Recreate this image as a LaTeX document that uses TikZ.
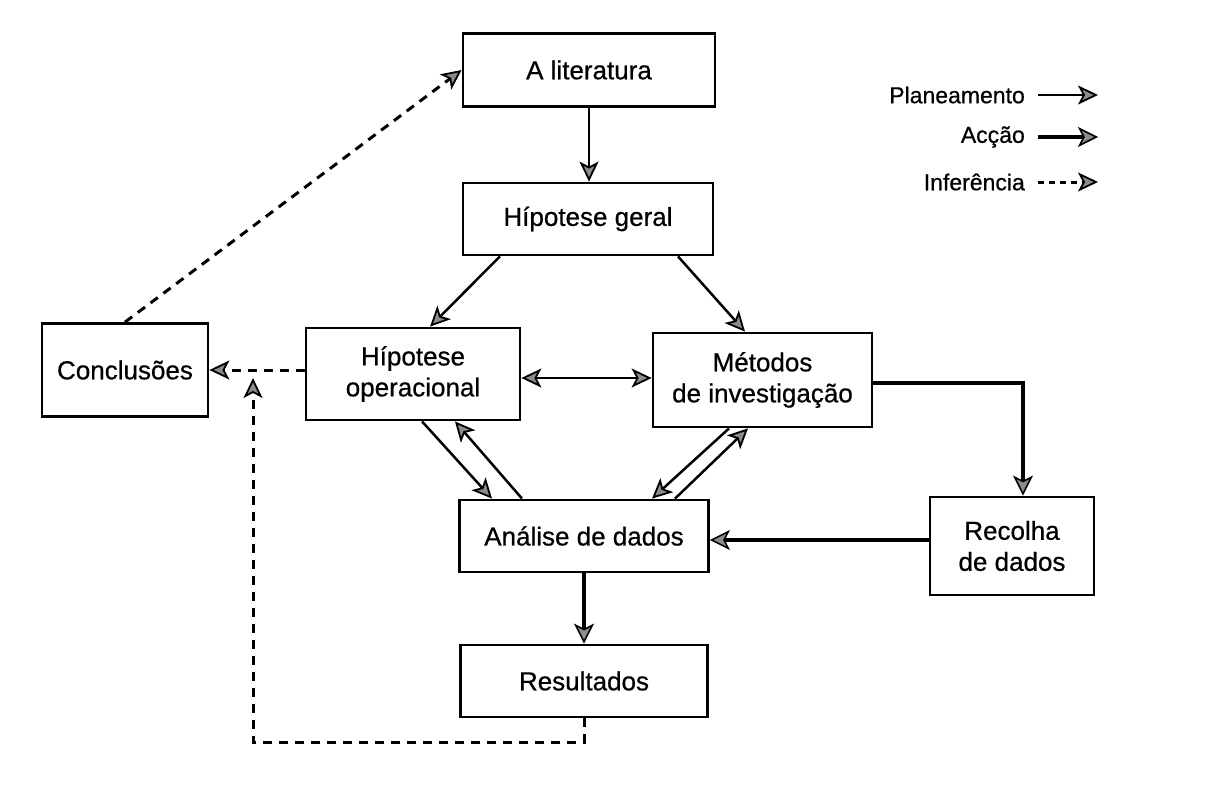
\documentclass[tikz,border=0pt]{standalone}
\usepackage{fontspec}
\setmainfont{Liberation Sans}[FakeBold=0.6]
\usetikzlibrary{arrows.meta,calc}
\tikzset{
  tiphead/.tip={Stealth[length=20pt,width=19pt,inset=5pt,fill=black!45,line width=1.8pt]},
  tipthick/.tip={Stealth[length=20pt,width=20pt,inset=5pt,fill=black!45,line width=1.6pt]}
}
\begin{document}
\begin{tikzpicture}[x=1pt,y=-1pt,
  box/.style={draw=black,line width=2.8pt,rectangle,align=center,inner sep=2pt,
    font=\fontsize{26}{31}\selectfont},
  plan/.style={line width=2.5pt,-tiphead},
  planboth/.style={line width=2.5pt,tiphead-tiphead},
  act/.style={line width=4.4pt,-tipthick},
  infer/.style={line width=3pt,dash pattern=on 9pt off 7pt,-tiphead},
  legtext/.style={font=\fontsize{23}{26}\selectfont,anchor=east,inner sep=0pt}]
\useasboundingbox (0,0) rectangle (1217,792);
\fill[white] (0,0) rectangle (1217,792);

% boxes
\node[box,minimum width=252pt,minimum height=73pt] (lit) at (589,70) {A literatura};
\node[box,minimum width=250pt,minimum height=72pt] (geral) at (588,219) {Hípotese geral};
\node[box,minimum width=214pt,minimum height=92pt] (oper) at (413,374) {Hípotese\\operacional};
\node[box,minimum width=219pt,minimum height=94pt] (metod) at (762.5,380) {Métodos\\de investigação};
\node[box,minimum width=166pt,minimum height=93pt] (concl) at (125,370) {Conclusões};
\node[box,minimum width=249pt,minimum height=72pt] (anal) at (584,536) {Análise de dados};
\node[box,minimum width=164pt,minimum height=98pt] (recol) at (1012,546) {Recolha\\de dados};
\node[box,minimum width=247pt,minimum height=72pt] (result) at (584,681) {Resultados};

% planning arrows
\draw[plan] (lit.south) -- (lit.south |- geral.north);
\draw[plan] ([xshift=-88pt]geral.south) -- ([xshift=17pt]oper.north);
\draw[plan] ([xshift=90pt]geral.south) -- ([xshift=-17.5pt]metod.north);
\draw[planboth] ([yshift=-4pt]oper.east) -- ([yshift=-4pt]oper.east -| metod.west);
\draw[plan] ([xshift=9pt]oper.south) -- ([xshift=-92pt]anal.north);
\draw[plan] ([xshift=-62pt]anal.north) -- ([xshift=42pt]oper.south);
\draw[plan] ([xshift=-33.5pt]metod.south) -- ([xshift=68pt]anal.north);
\draw[plan] ([xshift=91pt]anal.north) -- ([xshift=-14.5pt]metod.south);

% action arrows
\draw[act] ([yshift=-3pt]metod.east) -| ([xshift=11pt]recol.north);
\draw[act] ([yshift=6pt]recol.west) -- ([yshift=6pt]recol.west -| anal.east);
\draw[act] (anal.south) -- (anal.south |- result.north);

% inference arrows
\coordinate (c1) at (253,742);
\coordinate (c2) at (253,378);
\draw[infer] (oper.west |- concl.east) -- (concl.east);
\draw[infer] (concl.north) -- (lit.west);
\draw[infer] (result.south) |- (c1) -- (c2);

% legend
\node[legtext] (lp) at (1025,95) {Planeamento};
\node[legtext] (la) at (1025,137) {Acção};
\node[legtext] (li) at (1025,182) {Inferência};
\coordinate (lp1) at (1038,95);  \coordinate (lp2) at (1098,95);
\coordinate (la1) at (1038,137); \coordinate (la2) at (1098,137);
\coordinate (li1) at (1038,182); \coordinate (li2) at (1098,182);
\draw[plan] (lp1) -- (lp2);
\draw[act] (la1) -- (la2);
\draw[infer,dash pattern=on 6pt off 5pt] (li1) -- (li2);
\end{tikzpicture}
\end{document}
